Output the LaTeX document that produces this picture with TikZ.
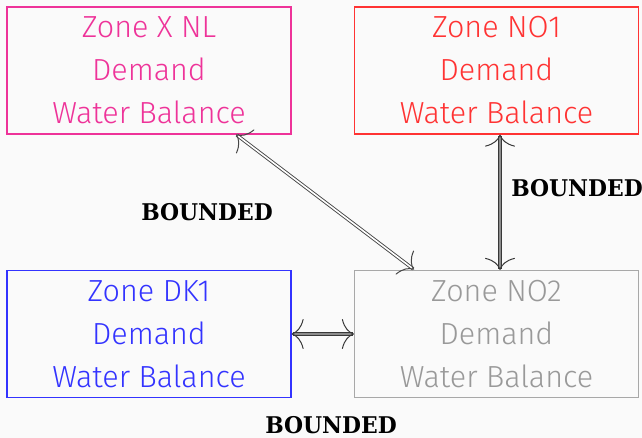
\documentclass[tikz,border=0pt]{standalone}
\usepackage{fontspec}
\setmainfont{Fira Sans Light}
\newfontfamily\bnd[FakeStretch=0.95]{DejaVu Serif Bold}
\usetikzlibrary{arrows.meta}
\definecolor{cNL}{HTML}{EE3399}
\definecolor{cNO1}{HTML}{FF3333}
\definecolor{cDK}{HTML}{3333FF}
\definecolor{cNO2}{HTML}{A8A8A8}
\definecolor{cNO2t}{HTML}{999999}
\definecolor{bg}{HTML}{FAFAFA}
\tikzset{
  zone/.style={draw=#1, text=#1, line width=1.2pt, minimum width=284pt, minimum height=127pt,
    align=center, font=\fontsize{30.5}{43}\selectfont, inner sep=0pt},
  link/.style={draw=#1, double=white, double distance=1.6pt, line width=0.9pt,
    {Computer Modern Rightarrow[length=12pt,width=30pt,line width=1pt]}-{Computer Modern Rightarrow[length=12pt,width=30pt,line width=1pt]}},
  lbl/.style={font=\bnd\fontsize{23}{26}\selectfont, text=black, inner sep=0pt}
}
\begin{document}
\begin{tikzpicture}[x=1pt,y=-1pt]
\fill[bg] (0,0) rectangle (642,438);
\useasboundingbox (0,0) rectangle (642,438);
\node[zone=cNL] (nl) at (149,70.5) {Zone X NL\\Demand\\Water Balance};
\node[zone=cNO1] (no1) at (496.5,70.5) {Zone NO1\\Demand\\Water Balance};
\node[zone=cDK] (dk) at (149,334) {Zone DK1\\Demand\\Water Balance};
\node[zone=cNO2, text=cNO2t] (no2) at (496.5,334) {Zone NO2\\Demand\\Water Balance};
\coordinate (a1) at (236,134.5);
\coordinate (a2) at (414,269.5);
\draw[link=gray!55!black] (a1) -- (a2);
\draw[link=black!78, double=black!45] (no1.south -| 500,0) -- (no2.north -| 500,0);
\draw[link=black!78, double=black!45] (dk.east) -- (no2.west);
\node[lbl] (b1) at (207,212) {BOUNDED};
\node[lbl] (b2) at (577,188) {BOUNDED};
\node[lbl] (b3) at (331,425) {BOUNDED};
\end{tikzpicture}
\end{document}
